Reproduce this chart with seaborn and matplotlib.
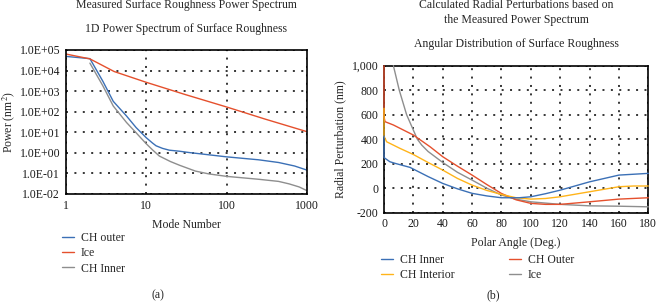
import numpy as np
import pandas as pd
import matplotlib
matplotlib.use("Agg")
import matplotlib.pyplot as plt
from matplotlib.ticker import FuncFormatter, FixedLocator, NullLocator
import seaborn as sns

# ---------------- data: (a) power spectrum ----------------
outer_mode = [1, 2, 2.9, 3.9, 5.7, 7.5, 10, 12, 13.3, 16, 19.4, 26, 34, 100, 250, 443, 700, 1000]
outer_pow = [4.9e4, 3.8e4, 3.0e3, 3.2e2, 62, 17, 5.5, 3.0, 2.2, 1.65, 1.35, 1.2, 1.04, 0.64, 0.46, 0.34, 0.23, 0.145]

ice_mode = [1, 2, 4, 10, 30, 100, 300, 1000]
ice_pow = [6.4e4, 3.7e4, 9.0e3, 2.7e3, 7.0e2, 1.7e2, 44, 10.7]

inner_mode = [2, 2.9, 3.9, 5.7, 7.5, 10, 12, 14.6, 20, 26, 34, 41, 60, 100, 250, 443, 600, 800, 1000]
inner_pow = [2.3e4, 1.8e3, 1.9e2, 30, 9.5, 2.8, 1.4, 0.7, 0.38, 0.25, 0.17, 0.13, 0.095, 0.072, 0.052, 0.041, 0.031, 0.022, 0.0145]

# ---------------- data: (b) radial perturbation ----------------
chin_ang = [0, 0, 4, 7.5, 17.7, 30, 40, 50, 60, 70, 80, 92, 100, 110, 120, 140, 160, 180]
chin_val = [425, 250, 216, 203, 170, 95, 39, -5, -42, -63, -78, -78, -70, -45, -16, 52, 107, 121]

chint_ang = [0, 0, 1.8, 10.9, 20, 30, 40, 50, 60, 70, 80, 90, 100, 110, 120, 140, 160, 170, 180]
chint_val = [652, 425, 379, 325, 275, 210, 148, 80, 25, -18, -51, -78, -89, -84, -70, -29, 12, 18, 18]

chout_ang = [0, 0, 0.7, 6.4, 20, 31.4, 40, 50, 60, 70, 80, 90, 100, 110, 120, 140, 160, 180]
chout_val = [1000, 583, 543, 516, 434, 338, 257, 180, 107, 30, -43, -95, -124, -132, -132, -111, -89, -78]

ice2_ang = [6.4, 10.4, 15.4, 22.7, 25.7, 30, 40, 50, 60, 70, 80, 90, 100, 120, 140, 160, 180]
ice2_val = [1000, 800, 600, 400, 352, 300, 210, 130, 66, 0, -56, -90, -111, -132, -144, -147, -152]

left_ticks_y = [1e-2, 1e-1, 1e0, 1e1, 1e2, 1e3, 1e4, 1e5]
left_ticks_x = [1, 10, 100, 1000]

BLUE = "#3b70b6"
RED = "#e5502d"
GRAY = "#8e8e8e"
YELLOW = "#ffb41a"

df_a = pd.concat([
    pd.DataFrame({"mode": outer_mode, "power": outer_pow, "s": "CH outer"}),
    pd.DataFrame({"mode": ice_mode, "power": ice_pow, "s": "Ice"}),
    pd.DataFrame({"mode": inner_mode, "power": inner_pow, "s": "CH Inner"}),
], ignore_index=True)

df_b = pd.concat([
    pd.DataFrame({"ang": chin_ang, "val": chin_val, "s": "CH Inner"}),
    pd.DataFrame({"ang": chint_ang, "val": chint_val, "s": "CH Interior"}),
    pd.DataFrame({"ang": chout_ang, "val": chout_val, "s": "CH Outer"}),
    pd.DataFrame({"ang": ice2_ang, "val": ice2_val, "s": "Ice"}),
], ignore_index=True)

sns.set_theme(style="white")
plt.rcParams["font.family"] = ["Liberation Serif", "DejaVu Serif"]
plt.rcParams["mathtext.fontset"] = "stix"
FS = 8.5
plt.rcParams["font.size"] = FS

W, H = 661, 302
fig = plt.figure(figsize=(W / 100, H / 100), dpi=100)

def fx(px):
    return px / W

def fy(py):
    return 1 - py / H

axA = fig.add_axes([fx(65.7), fy(194), fx(307) - fx(65.7), fy(50) - fy(194)])
axB = fig.add_axes([fx(384), fy(212.7), fx(648.3) - fx(384), fy(65.7) - fy(212.7)])

grid_kw = dict(color="black", linestyle=(0, (1.3, 4.2)), linewidth=1.1)

# ---- (a)
sns.lineplot(data=df_a, x="mode", y="power", hue="s",
             hue_order=["CH outer", "Ice", "CH Inner"],
             palette=[BLUE, RED, GRAY], estimator=None, sort=False,
             linewidth=1.0, ax=axA)
axA.set_xscale("log")
axA.set_yscale("log")
axA.set_xlim(1, 1000)
axA.set_ylim(1e-2, 1e5)
axA.xaxis.set_major_locator(FixedLocator(left_ticks_x))
axA.yaxis.set_major_locator(FixedLocator(left_ticks_y))
axA.xaxis.set_minor_locator(NullLocator())
axA.yaxis.set_minor_locator(NullLocator())
axA.xaxis.set_major_formatter(FuncFormatter(lambda v, p: f"{v:g}"))
axA.yaxis.set_major_formatter(FuncFormatter(lambda v, p: f"{v:.1E}"))
axA.grid(True, which="major", **grid_kw)
axA.set_xlabel("Mode Number", fontsize=FS, labelpad=5)
axA.set_ylabel("Power (nm$^2$)", fontsize=FS, va="center")
axA.yaxis.set_label_coords((8.5 - 65.7) / 241.3, 0.5)
axA.tick_params(length=0, labelsize=FS, pad=4, colors="#1a1a1a")
axA.legend(loc="upper left", bbox_to_anchor=(fx(62), fy(232)),
           bbox_transform=fig.transFigure, frameon=False, fontsize=FS,
           handlelength=1.0, handletextpad=0.6, labelspacing=0.28,
           borderpad=0, borderaxespad=0)

# ---- (b)
sns.lineplot(data=df_b, x="ang", y="val", hue="s",
             hue_order=["CH Inner", "CH Interior", "CH Outer", "Ice"],
             palette=[BLUE, YELLOW, RED, GRAY], estimator=None, sort=False,
             linewidth=1.0, ax=axB)
# stacking as in the reference: blue on top, then yellow, red, gray; above the spine
for ln, z in zip(axB.lines[:4], [2.9, 2.8, 2.7, 2.6]):
    ln.set_zorder(z)
    ln.set_clip_on(False)
axB.set_xlim(0, 180)
axB.set_ylim(-200, 1000)
axB.xaxis.set_major_locator(FixedLocator(list(range(0, 181, 20))))
axB.yaxis.set_major_locator(FixedLocator(list(range(-200, 1001, 200))))
axB.yaxis.set_major_formatter(FuncFormatter(lambda v, p: f"{int(round(v)):,}"))
axB.grid(True, which="major", **grid_kw)
axB.set_xlabel("Polar Angle (Deg.)", fontsize=FS, labelpad=5)
axB.set_ylabel("Radial Perturbation (nm)", fontsize=FS, va="center")
axB.yaxis.set_label_coords((340 - 384) / 264.3, 0.5)
axB.tick_params(length=0, labelsize=FS, pad=4, colors="#1a1a1a")
axB.legend(loc="upper left", bbox_to_anchor=(fx(381), fy(254)),
           bbox_transform=fig.transFigure, frameon=False, fontsize=FS, ncol=2,
           handlelength=1.0, handletextpad=0.6, labelspacing=0.28,
           columnspacing=4.6, borderpad=0, borderaxespad=0)

for ax in (axA, axB):
    for sp in ax.spines.values():
        sp.set_visible(True)
        sp.set_color("black")
        sp.set_linewidth(1.2)
        sp.set_zorder(2.5)

# titles and captions
fig.text(fx(186), fy(5), "Measured Surface Roughness Power Spectrum", ha="center", va="center", fontsize=FS)
fig.text(fx(186), fy(29), "1D Power Spectrum of Surface Roughness", ha="center", va="center", fontsize=FS)
fig.text(fx(516), fy(5), "Calculated Radial Perturbations based on", ha="center", va="center", fontsize=FS)
fig.text(fx(516), fy(20), "the Measured Power Spectrum", ha="center", va="center", fontsize=FS)
fig.text(fx(516), fy(44), "Angular Distribution of Surface Roughness", ha="center", va="center", fontsize=FS)
fig.text(fx(158), fy(295), "(a)", ha="center", va="center", fontsize=FS)
fig.text(fx(493), fy(295), "(b)", ha="center", va="center", fontsize=FS)

fig.savefig("out.png", dpi=100)
